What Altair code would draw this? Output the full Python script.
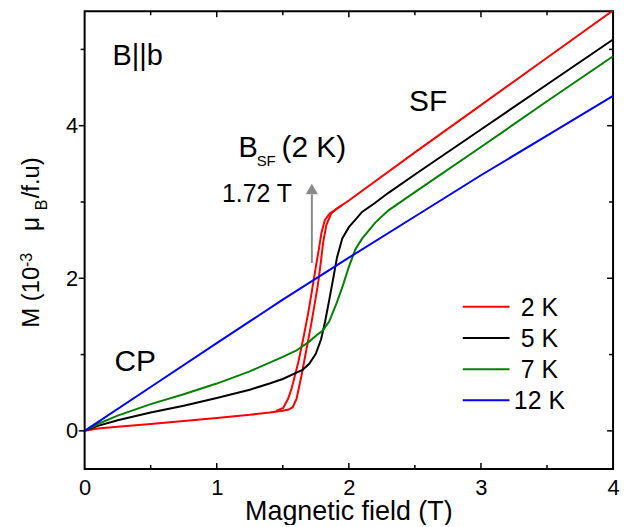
import altair as alt
import pandas as pd

FONT = "Liberation Sans"

# ---------------- data ----------------
temps = ["2 K", "5 K", "7 K", "12 K"]
colors = ["#ff0000", "#000000", "#008000", "#0000ff"]

# 2 K, increasing-field sweep (low field, right loop branch, spin-flop phase)
r_up_x = [0, 0.1, 0.25, 0.5, 0.75, 1.0, 1.25, 1.4, 1.5, 1.545, 1.575, 1.604, 1.641,
          1.679, 1.712, 1.742, 1.767, 1.787, 1.805, 1.83, 1.867, 1.905, 1.95, 2.0,
          2.5, 3.0, 3.5, 4.0]
r_up_y = [0, 0.03, 0.055, 0.09, 0.13, 0.17, 0.21, 0.24, 0.265, 0.28, 0.31, 0.42, 0.72,
          1.07, 1.37, 1.67, 1.93, 2.20, 2.46, 2.70, 2.85, 2.91, 2.96, 3.02,
          3.65, 4.27, 4.89, 5.51]
# 2 K, decreasing-field sweep (left loop branch)
r_dn_x = [1.45, 1.503, 1.54, 1.566, 1.591, 1.616, 1.654, 1.692, 1.722, 1.75, 1.772,
          1.792, 1.818, 1.855, 1.893, 1.95]
r_dn_y = [0.26, 0.30, 0.42, 0.55, 0.72, 0.89, 1.20, 1.54, 1.85, 2.15, 2.37,
          2.59, 2.76, 2.85, 2.89, 2.96]
# 5 K
k5_x = [0, 0.1, 0.25, 0.5, 0.75, 1.0, 1.25, 1.4, 1.5, 1.6, 1.65, 1.7, 1.75, 1.79,
        1.82, 1.85, 1.88, 1.91, 1.95, 2.0, 2.05, 2.1, 2.2, 2.3, 2.5, 3.0, 3.5, 4.0]
k5_y = [0, 0.065, 0.14, 0.24, 0.33, 0.43, 0.54, 0.62, 0.68, 0.76, 0.80, 0.88, 1.01, 1.20,
        1.43, 1.70, 1.98, 2.27, 2.52, 2.67, 2.77, 2.87, 2.99, 3.12, 3.36, 3.95, 4.54, 5.13]
# 7 K
k7_x = [0, 0.1, 0.25, 0.5, 0.75, 1.0, 1.25, 1.5, 1.6, 1.7, 1.76, 1.8, 1.85, 1.9, 1.95,
        2.0, 2.05, 2.1, 2.2, 2.3, 2.5, 3.0, 3.5, 4.0]
k7_y = [0, 0.09, 0.20, 0.35, 0.48, 0.62, 0.78, 0.97, 1.05, 1.17, 1.26, 1.31, 1.43, 1.64,
        1.88, 2.15, 2.38, 2.52, 2.73, 2.89, 3.13, 3.72, 4.32, 4.91]
# 12 K
k12_x = [0, 0.5, 1.0, 1.5, 2.0, 2.5, 3.0, 3.5, 4.0]
k12_y = [0, 0.575, 1.15, 1.72, 2.27, 2.81, 3.35, 3.87, 4.39]

# axis tick values
x_labels = [0, 1, 2, 3, 4]
x_major = [1, 2, 3]
x_minor = [0.5, 1.5, 2.5, 3.5]
y_labels = [0, 2, 4]
y_major = [0, 2, 4]
y_minor = [1, 3, 5]

# spin-flop field annotation
b_sf = 1.72
arrow_y0, arrow_y1, arrow_head = 2.2, 3.1, 3.17

# text annotations in data coordinates: (text, x, y, font size)
annotations = [
    ("B||b", 0.211, 4.79, 29),
    ("SF", 2.456, 4.19, 30),
    ("CP", 0.226, 0.78, 30),
    ("1.72 T", 1.04, 3.0, 25),
    ("B", 1.164, 3.585, 29),
    ("SF", 1.302, 3.477, 15),
    ("(2 K)", 1.49, 3.585, 30),
]

# ---------------- build table ----------------
rows = []


def add(series, seg, xs, ys):
    for i, (a, b) in enumerate(zip(xs, ys)):
        rows.append({"T": series, "seg": seg, "B": a, "M": b, "i": i})


add("2 K", "2a", r_up_x, r_up_y)
add("2 K", "2b", r_dn_x, r_dn_y)
add("5 K", "5", k5_x, k5_y)
add("7 K", "7", k7_x, k7_y)
add("12 K", "12", k12_x, k12_y)
df = pd.DataFrame(rows)

W, H = 531, 460
xs = alt.Scale(domain=[0, 4], nice=False, zero=False)
ys = alt.Scale(domain=[-0.5, 5.5], nice=False, zero=False)
cscale = alt.Scale(domain=temps, range=colors)

X_AXIS = alt.Axis(values=x_labels, format="d", title=None, grid=False, domain=False,
                  ticks=False, tickSize=0, labelFont=FONT, labelFontSize=22,
                  labelColor="black", labelPadding=9, labelFlush=False)
Y_AXIS = alt.Axis(values=y_labels, format="d", title=None, grid=False, domain=False,
                  ticks=False, tickSize=0, labelFont=FONT, labelFontSize=22,
                  labelColor="black", labelPadding=7, labelFlush=False)


def X(f):
    return alt.X(f, scale=xs, axis=X_AXIS, title=None)


def Y(f):
    return alt.Y(f, scale=ys, axis=Y_AXIS, title=None)


lines = alt.Chart(df).mark_line(strokeWidth=2, clip=True).encode(
    x=X("B:Q"), y=Y("M:Q"),
    color=alt.Color("T:N", scale=cscale, legend=None),
    detail="seg:N",
    order="i:Q",
)


def xticks(vals, y0, y1):
    return alt.Chart(pd.DataFrame({"v": vals})).mark_rule(
        color="black", strokeWidth=1.5).encode(
        x=X("v:Q"), y=alt.value(y0), y2=alt.value(y1))


def yticks(vals, x0, x1):
    return alt.Chart(pd.DataFrame({"v": vals})).mark_rule(
        color="black", strokeWidth=1.5).encode(
        y=Y("v:Q"), x=alt.value(x0), x2=alt.value(x1))


ticks = [
    xticks(x_major, H, H - 6), xticks(x_minor, H, H - 4),
    xticks(x_major, 0, 6), xticks(x_minor, 0, 4),
    yticks(y_major, -6, 0), yticks(y_minor, -4, 0),
    yticks(y_major, W - 6, W), yticks(y_minor, W - 4, W),
]

arrow_df = pd.DataFrame({"B": [b_sf], "y0": [arrow_y0], "y1": [arrow_y1], "yh": [arrow_head]})
arrow = alt.Chart(arrow_df).mark_rule(color="#8a8a8a", strokeWidth=2).encode(
    x=X("B:Q"), y=Y("y0:Q"), y2="y1:Q")
head = alt.Chart(arrow_df).mark_point(
    shape="triangle-up", filled=True, color="#8a8a8a", size=150, opacity=1).encode(
    x=X("B:Q"), y=Y("yh:Q"))

texts = []
for t, ax, ay, fs in annotations:
    texts.append(alt.Chart(pd.DataFrame({"t": [t], "B": [ax], "M": [ay]})).mark_text(
        align="left", baseline="alphabetic", font=FONT, fontSize=fs, color="black").encode(
        x=X("B:Q"), y=Y("M:Q"), text="t:N"))

# y-axis title built from pieces (super/subscripts), pixel layout
ytitle_parts = [
    ("M (10", -45.7, 318, 24),
    ("-3", -53, 257, 16),
    ("\u03bc", -45.7, 221, 25),
    ("B", -38.3, 200, 16),
    ("/f.u)", -45.7, 188, 24),
]
for t, px, py, fs in ytitle_parts:
    texts.append(alt.Chart(pd.DataFrame({"t": [t]})).mark_text(
        align="left", baseline="alphabetic", angle=270, font=FONT, fontSize=fs,
        color="black").encode(x=alt.value(px), y=alt.value(py), text="t:N"))

texts.append(alt.Chart(pd.DataFrame({"t": ["Magnetic field (T)"]})).mark_text(
    align="center", baseline="alphabetic", font=FONT, fontSize=27, color="black").encode(
    x=alt.value(W / 2), y=alt.value(511), text="t:N"))

main = alt.layer(lines, *ticks, arrow, head, *texts)

# legend
leg_df = pd.DataFrame({"T": temps})
leg_y = alt.Y("T:N", scale=alt.Scale(type="point", domain=temps, range=[297, 391], padding=0), axis=None)
leg_line = alt.Chart(leg_df).mark_rule(strokeWidth=2).encode(
    x=alt.value(380), x2=alt.value(427), y=leg_y,
    color=alt.Color("T:N", scale=cscale, legend=None))
leg_text = alt.Chart(leg_df).mark_text(
    align="center", baseline="middle", font=FONT, fontSize=25, color="black", dy=1).encode(
    x=alt.value(457), y=leg_y, text="T:N")
legend = alt.layer(leg_line, leg_text)

chart = alt.layer(main, legend).resolve_scale(y="independent").properties(
    width=W, height=H,
    autosize=alt.AutoSizeParams(type="none"),
    padding={"left": 77, "top": 2, "right": 12, "bottom": 55},
    background="white",
).configure_view(stroke="black", strokeWidth=2)

chart.save("out.html", embed_options={"renderer": "svg", "actions": False})
